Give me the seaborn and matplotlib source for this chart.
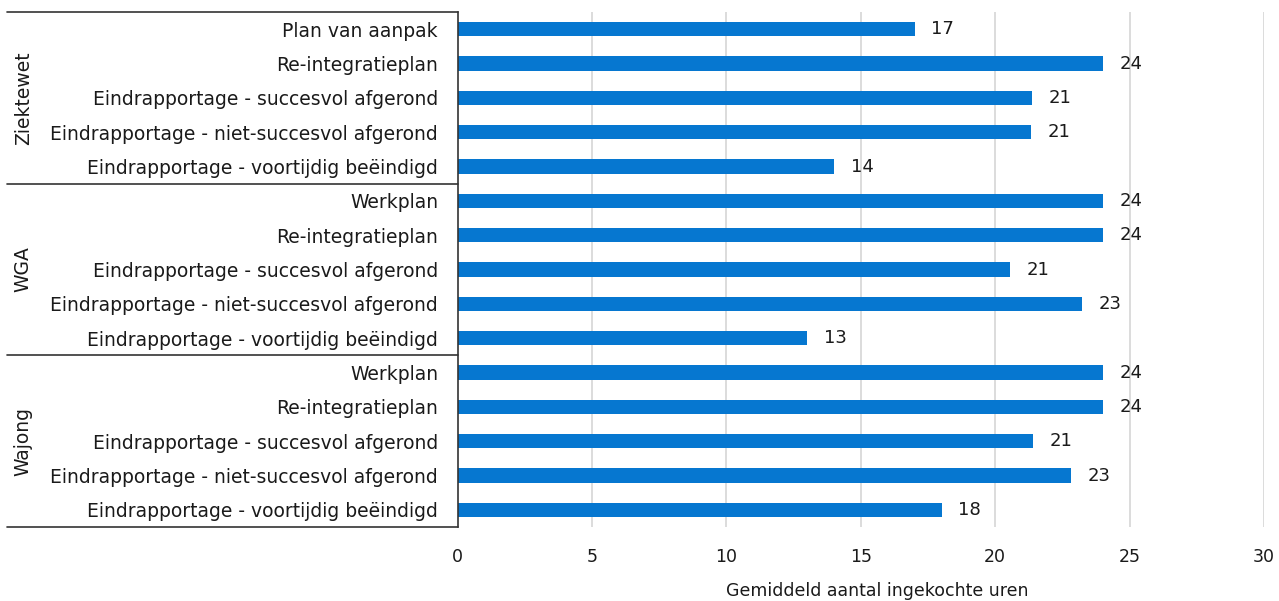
import matplotlib
matplotlib.use("Agg")
import matplotlib.pyplot as plt
import matplotlib.transforms as mtransforms
import seaborn as sns
import pandas as pd

# Data: average number of purchased hours per report type
groups = ["Ziektewet", "WGA", "Wajong"]
items_ziektewet = [
    "Plan van aanpak",
    "Re-integratieplan",
    "Eindrapportage - succesvol afgerond",
    "Eindrapportage - niet-succesvol afgerond",
    "Eindrapportage - voortijdig beëindigd",
]
items_wga = [
    "Werkplan",
    "Re-integratieplan",
    "Eindrapportage - succesvol afgerond",
    "Eindrapportage - niet-succesvol afgerond",
    "Eindrapportage - voortijdig beëindigd",
]
items_wajong = [
    "Werkplan",
    "Re-integratieplan",
    "Eindrapportage - succesvol afgerond",
    "Eindrapportage - niet-succesvol afgerond",
    "Eindrapportage - voortijdig beëindigd",
]
hours_ziektewet = [17.0, 24.0, 21.38, 21.32, 14.0]
hours_wga = [24.0, 24.0, 20.55, 23.22, 13.0]
hours_wajong = [24.0, 24.0, 21.39, 22.81, 18.01]
xticks = [0, 5, 10, 15, 20, 25, 30]
xlabel = "Gemiddeld aantal ingekochte uren"

rows = []
for g, items, vals in zip(groups,
                          [items_ziektewet, items_wga, items_wajong],
                          [hours_ziektewet, hours_wga, hours_wajong]):
    for it, v in zip(items, vals):
        rows.append({"groep": g, "item": it, "key": f"{g}|{it}", "uren": v})
df = pd.DataFrame(rows)

sns.set_theme(style="white")
plt.rcParams["font.family"] = ["DejaVu Sans"]

fig = plt.figure(figsize=(12.79, 6.01), dpi=100)
ax = fig.add_axes([457.5 / 1279, 1 - 527 / 601, (1264 - 457.5) / 1279, (527 - 12) / 601])

bar_color = "#0677d0"
sns.barplot(data=df, x="uren", y="key", orient="h", color=bar_color,
            width=0.42, saturation=1, linewidth=0, ax=ax, errorbar=None)

txt_color = "#1a1a1a"
ax.set_xlim(0, 30)
ax.set_ylim(len(df) - 0.5, -0.5)
ax.set_xticks(xticks)
ax.set_xticklabels([str(t) for t in xticks], fontsize=12.5, color=txt_color)
ax.tick_params(axis="x", length=0, pad=15)
ax.set_yticks(range(len(df)))
ax.set_yticklabels(df["item"], fontsize=13.5, color=txt_color)
ax.tick_params(axis="y", length=0, pad=14)
ax.set_ylabel("")
ax.set_xlabel("")
ax.text(0.52, -(591 - 527) / 515, xlabel, transform=ax.transAxes,
        ha="center", va="center", fontsize=12.5, color=txt_color)

# Vertical gridlines
for t in xticks[1:]:
    ax.axvline(t, color="#d6d6d6", lw=1.2, zorder=0)

for s in ["top", "right", "bottom"]:
    ax.spines[s].set_visible(False)
ax.spines["left"].set_color("#333333")
ax.spines["left"].set_linewidth(1.2)

# Value labels
for c in ax.containers:
    ax.bar_label(c, labels=[f"{v:.0f}" for v in c.datavalues], padding=12,
                 fontsize=13, color=txt_color)

# Group separators and rotated group names on the left
trans = mtransforms.blended_transform_factory(ax.transAxes, ax.transData)
x_left = (7 - 457.5) / (1264 - 457.5)
n = 0
bounds = [-0.5]
for g, items in zip(groups, [items_ziektewet, items_wga, items_wajong]):
    start = n
    n += len(items)
    bounds.append(n - 0.5)
    ax.text(x_left + 0.02, (start + n - 1) / 2, g, rotation=90, ha="center",
            va="center", fontsize=13.5, color=txt_color, transform=trans)
for b in bounds:
    ax.plot([x_left, 0], [b, b], color="#333333", lw=1.2, transform=trans,
            clip_on=False)

fig.savefig("out.png", dpi=100)
